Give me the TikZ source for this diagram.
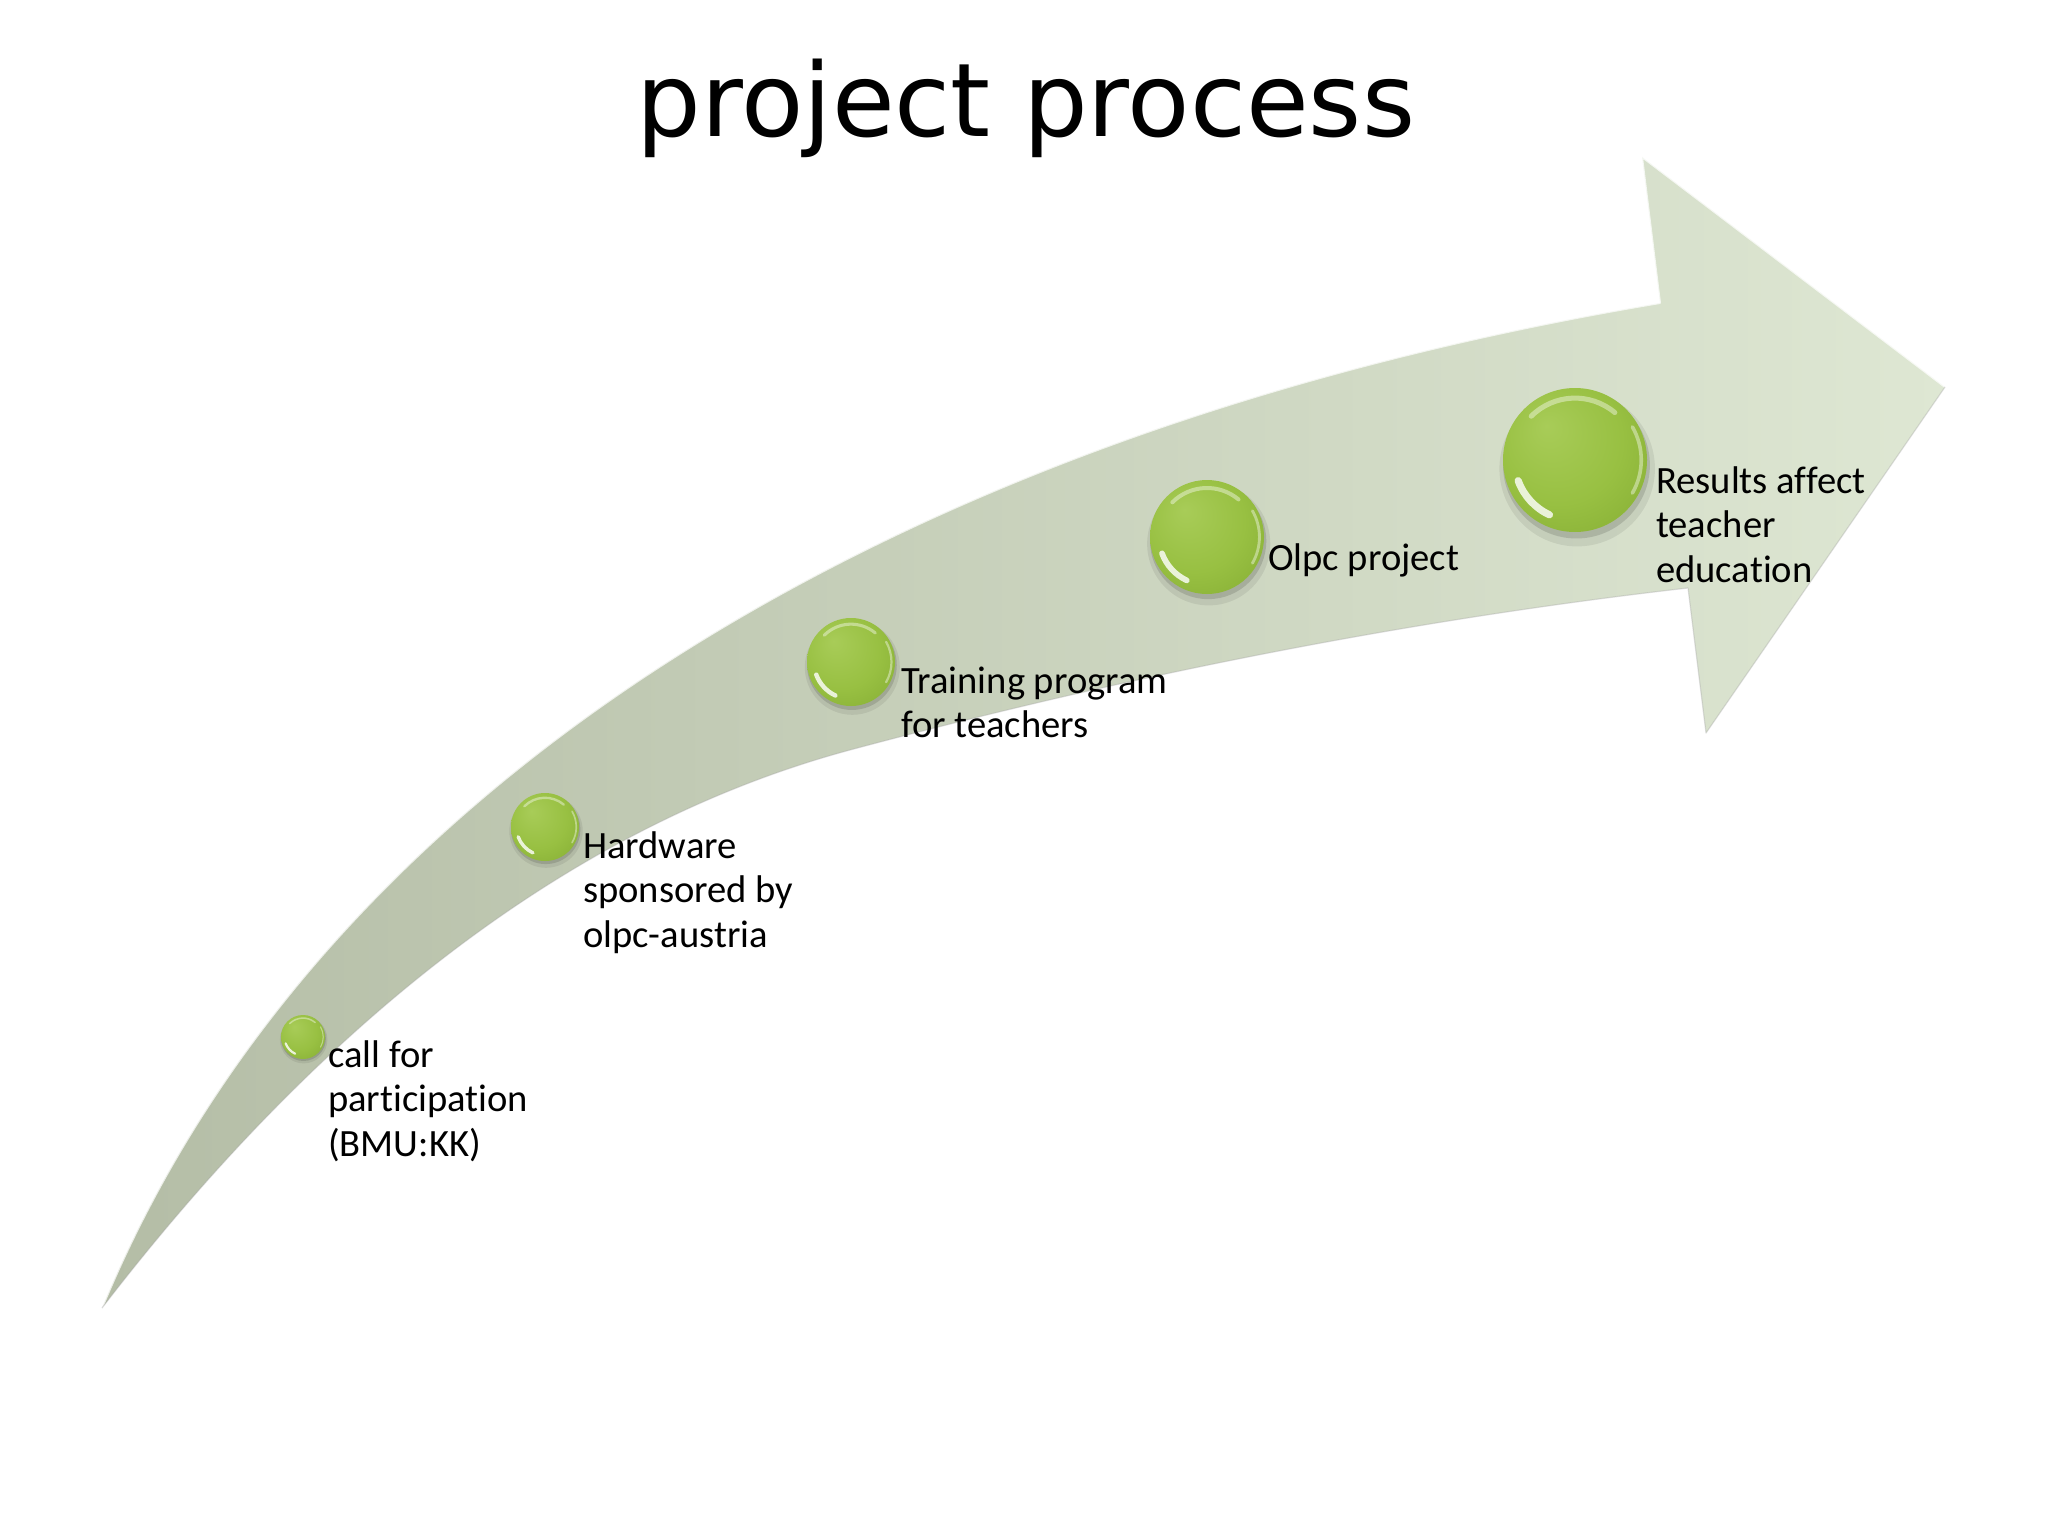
\documentclass[tikz,border=0pt]{standalone}
\usepackage{fontspec}
\newfontfamily\titlefamily{DejaVu Sans}
\newfontfamily\labelfamily[Ligatures=NoCommon]{Carlito}
\definecolor{bandL}{RGB}{180,189,166}
\definecolor{bandR}{RGB}{222,231,211}
\definecolor{ballA}{RGB}{168,204,88}
\definecolor{ballB}{RGB}{152,192,66}
\definecolor{ballC}{RGB}{126,166,46}
\pgfdeclareradialshading{ballshade}{\pgfpoint{-10bp}{12bp}}{color(0bp)=(ballA); color(22bp)=(ballB); color(46bp)=(ballC); color(50bp)=(ballC)}
\newcommand\lblfont{\labelfamily\fontsize{38.6}{44.5}\selectfont}
\newcommand\greenball[4]{%
  \fill[black,opacity=0.07] (#2+0.03*#4,#3+0.12*#4) circle[radius=1.08*#4];
  \fill[black,opacity=0.13] (#2+0.02*#4,#3+0.07*#4) circle[radius=1.02*#4];
  \node[ballnode,minimum size=2*#4*1pt] (#1) at (#2,#3) {};
  \draw[white,opacity=0.4,line width=0.07*#4*1pt,line cap=round]
    ([shift={(-50:0.86*#4)}]#1.center) arc[start angle=-50,end angle=-135,radius=0.86*#4];
  \draw[white,opacity=0.8,line width=0.10*#4*1pt,line cap=round]
    ([shift={(115:0.84*#4)}]#1.center) arc[start angle=115,end angle=160,radius=0.84*#4];
  \draw[white,opacity=0.4,line width=0.05*#4*1pt,line cap=round]
    ([shift={(30:0.92*#4)}]#1.center) arc[start angle=30,end angle=-30,radius=0.92*#4];
}
\tikzset{
  ballnode/.style={circle,inner sep=0pt,shading=ballshade},
  lbl/.style={anchor=base west,inner sep=0pt,font=\lblfont,text=black},
}
\begin{document}
\begin{tikzpicture}[x=1pt,y=-1pt]
\useasboundingbox (0,0) rectangle (2048,1536);
\fill[white] (0,0) rectangle (2048,1536);
% title
\node[anchor=base,inner sep=0pt,font=\titlefamily\fontsize{102}{120}\selectfont] (title) at (1026,137) {project process};
% curved arrow
\shade[left color=bandL,right color=bandR]
  (102,1308) .. controls (320,780) and (900,430) .. (1660,303)
  -- (1642,157) -- (1945,387) -- (1706,733) -- (1688,588)
  .. controls (1408,620) and (1130,675) .. (850,750)
  .. controls (620,812) and (362,970) .. (102,1308) -- cycle;
\draw[white,opacity=0.75,line width=2pt,line join=round]
  (102,1308) .. controls (320,780) and (900,430) .. (1660,303)
  -- (1642,157) -- (1945,387);
\draw[black!35,opacity=0.35,line width=1.2pt,line join=round]
  (1945,387) -- (1706,733) -- (1688,588)
  .. controls (1408,620) and (1130,675) .. (850,750)
  .. controls (620,812) and (362,970) .. (102,1308);
% balls
\greenball{b1}{303}{1037}{22}
\greenball{b2}{545}{827}{34}
\greenball{b3}{851}{662}{44}
\greenball{b4}{1207}{537}{57}
\greenball{b5}{1575}{460}{72}
% labels
\node[lbl] (l1) at (328,1067) {\vtop{\hbox{call for}\hbox{participation}\hbox{(BMU:KK)}}};
\node[lbl] (l2) at (583,858) {\vtop{\hbox{Hardware}\hbox{sponsored by}\hbox{olpc-austria}}};
\node[lbl] (l3) at (901,693) {\vtop{\hbox{Training program}\hbox{for teachers}}};
\node[lbl] (l4) at (1268,570) {Olpc project};
\node[lbl] (l5) at (1656,493) {\vtop{\hbox{Results affect}\hbox{teacher}\hbox{education}}};
\end{tikzpicture}
\end{document}
